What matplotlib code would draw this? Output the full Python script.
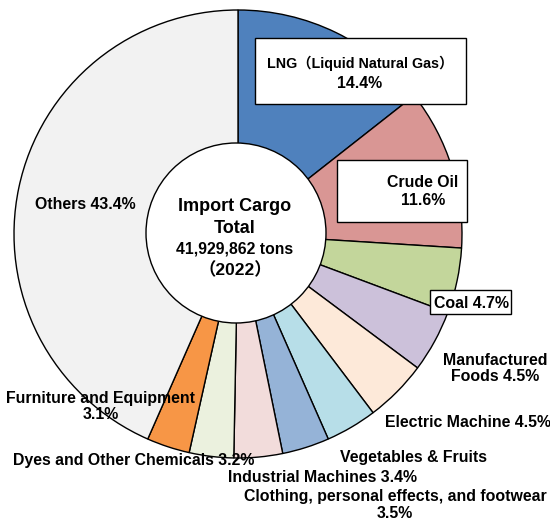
import matplotlib
matplotlib.use("Agg")
import matplotlib.pyplot as plt
from matplotlib.patches import Circle, Rectangle

categories = ["LNG（Liquid Natural Gas）", "Crude Oil", "Coal", "Manufactured Foods",
              "Electric Machine", "Vegetables & Fruits", "Industrial Machines",
              "Clothing, personal effects, and footwear", "Dyes and Other Chemicals",
              "Furniture and Equipment", "Others"]
values = [14.4, 11.6, 4.7, 4.5, 4.5, 3.7, 3.4, 3.5, 3.2, 3.1, 43.4]
colors = ["#4F81BD", "#D99694", "#C3D69B", "#CCC1DA", "#FDE9D9", "#B7DEE8",
          "#95B3D7", "#F2DCDB", "#EBF1DE", "#F79646", "#F2F2F2"]
center_lines = ["Import Cargo", "Total", "41,929,862 tons", "（2022）"]

FAM = ["Liberation Sans", "Noto Sans CJK JP", "DejaVu Sans"]
plt.rcParams['font.family'] = FAM

W, H = 550, 521
fig = plt.figure(figsize=(W / 100, H / 100), dpi=100)
ax = fig.add_axes([0, 0, 1, 1])


def py(y):
    return H - y


cx, cy, R = 238, py(234), 224
ax.pie(values, colors=colors, startangle=90, counterclock=False,
       center=(cx, cy), radius=R, frame=True,
       wedgeprops=dict(edgecolor='black', linewidth=1.0))
ax.set_xlim(0, W)
ax.set_ylim(0, H)
ax.set_aspect('equal')
ax.axis('off')
ax.add_patch(Circle((236, py(233)), 90, facecolor='white', edgecolor='black', lw=1.0, zorder=5))

# center text
csizes = [13, 13, 11.3, 12.5]
cbase = [211, 233, 254, 275]
for line, s, b in zip(center_lines, csizes, cbase):
    ax.text(235, py(b), line, ha='center', va='baseline', fontsize=s,
            fontweight='bold', zorder=6)

fs = 11.4


def label(x, baselines, lines, size=fs):
    for b, t in zip(baselines, lines):
        ax.text(x, py(b), t, ha='center', va='baseline', fontsize=size,
                fontweight='bold', zorder=7)


def pct(v):
    return f"{v:.1f}%"


# boxed labels
ax.add_patch(Rectangle((255, py(104)), 211, 66, facecolor='white', edgecolor='black', lw=1.0, zorder=6))
label(360, [68], [categories[0]], size=10.3)
label(360, [88], [pct(values[0])])
ax.add_patch(Rectangle((337, py(222)), 130, 62, facecolor='white', edgecolor='black', lw=1.0, zorder=6))
label(423, [187, 205], [categories[1], pct(values[1])])
ax.add_patch(Rectangle((430, py(314)), 81, 24, facecolor='white', edgecolor='black', lw=1.0, zorder=6))
label(471, [308], [f"{categories[2]} {pct(values[2])}"])

# plain labels
label(495, [365, 381], ["Manufactured", f"Foods {pct(values[3])}"])
label(468, [427], [f"{categories[4]} {pct(values[4])}"])
label(414, [462], [categories[5]])
label(322, [482], [f"{categories[6]} {pct(values[6])}"])
label(395, [501, 518], [categories[7], pct(values[7])])
label(134, [465], [f"{categories[8]} {pct(values[8])}"])
label(101, [403, 419], [categories[9], pct(values[9])])
label(85, [209], [f"{categories[10]} {pct(values[10])}"])

fig.savefig("out.png", dpi=100, facecolor='white')
